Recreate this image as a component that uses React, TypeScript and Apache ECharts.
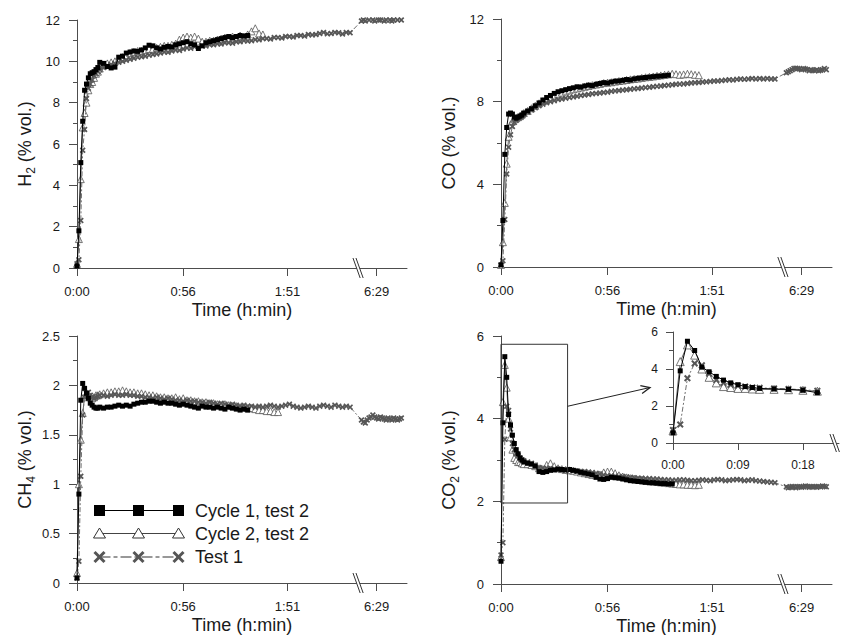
import React, { useEffect, useRef } from "react";
import * as echarts from "echarts";

const FONT = "'Liberation Sans', Arial, Helvetica, sans-serif";
const AXIS_COLOR = "#4d4d4d";
const TEXT_COLOR = "#1a1a1a";

// sampling times (real minutes since start)
const T_TEST2 = [
  0, 1, 2, 3, 4, 5, 6, 7, 8, 9, 10, 11, 12,
  14, 16, 18, 20, 22, 24, 26, 28, 30, 32, 34, 36, 38, 40, 42, 44, 46, 48, 50, 52,
  54, 56, 58, 60, 62, 64, 66, 68, 70, 72, 74, 76, 78, 80, 82, 84, 86, 88, 90, 92,
  94, 96, 98, 100, 102, 104, 106,
];
const T_TEST1 = [
  0, 1, 2, 3, 4, 5, 6, 7, 8, 9, 10, 11, 12,
  14, 16, 18, 20, 22, 24, 26, 28, 30, 32, 34, 36, 38, 40, 42, 44, 46, 48, 50, 52,
  54, 56, 58, 60, 62, 64, 66, 68, 70, 72, 74, 76, 78, 80, 82, 84, 86, 88, 90, 92,
  94, 96, 98, 100, 102, 104, 106, 108, 110, 112, 114, 116, 118, 120, 122, 124, 126,
  128, 130, 132, 134, 136, 138, 140, 142, 144,
  381, 382, 383, 384, 385, 386, 387, 388, 389, 390, 391, 392, 393, 394, 395, 396,
  397, 398, 399, 400, 401, 402,
];

// x axis ticks (real minutes)
const MAIN_TICKS = [0, 56, 111, 389];
const INSET_TICKS = [0, 9, 18];
// axis break: real times above BREAK_AT are shifted left by BREAK_SHIFT
const BREAK_AT = 148;
const BREAK_SHIFT = 231;
const INSET_MAX_T = 20;

// ---- H2 (% vol.)
const H2_C1 = [
  0.1, 1.8, 5.1, 7.1, 8.6, 8.9, 9.2, 9.4, 9.45, 9.5, 9.6, 9.7, 9.95,
  9.9, 9.75, 9.68, 9.72, 10.2, 10.25, 10.4, 10.45, 10.5, 10.48,
  10.55, 10.65, 10.78, 10.75, 10.65, 10.6, 10.68, 10.72, 10.7, 10.8,
  10.85, 10.9, 10.95, 10.85, 10.8, 10.62, 10.75, 10.9, 10.95, 11.0,
  11.05, 11.1, 11.15, 11.2, 11.15, 11.2, 11.25, 11.22, 11.25,
];
const H2_C2 = [
  0.2, 1.4, 4.3, 6.8, 7.5, 8.0, 8.6, 8.9, 9.0, 9.2, 9.4, 9.5, 9.65,
  9.8, 9.9, 9.95, 10.0, 10.1, 10.2, 10.3, 10.4, 10.45, 10.5,
  10.5, 10.55, 10.6, 10.6, 10.65, 10.7, 10.75, 10.75, 10.8, 10.85,
  11.05, 11.15, 11.2, 11.15, 11.2, 11.1, 10.95, 10.95, 11.0, 11.0,
  11.05, 11.1, 11.15, 11.1, 11.2, 11.15, 11.25, 11.2, 11.3, 11.45,
  11.6, 11.35, 11.3,
];
const H2_T1 = [
  0.2, 0.4, 2.3, 5.7, 6.7, 8.2, 8.7, 8.9, 9.1, 9.3, 9.4, 9.5, 9.6,
  9.7, 9.8, 9.85, 9.9, 9.95, 10.0, 10.05, 10.1, 10.15, 10.2,
  10.22, 10.25, 10.3, 10.33, 10.36, 10.4, 10.45, 10.44, 10.5, 10.55,
  10.53, 10.6, 10.65, 10.63, 10.7, 10.7, 10.75, 10.74, 10.8, 10.8,
  10.85, 10.84, 10.9, 10.9, 10.88, 10.95, 10.95, 11.0, 10.98, 11.0,
  11.05, 11.04, 11.1, 11.1, 11.08, 11.15, 11.15, 11.13, 11.2, 11.2,
  11.18, 11.25, 11.25, 11.22, 11.3, 11.28, 11.3, 11.35, 11.4, 11.33,
  11.35, 11.4, 11.38, 11.32, 11.4, 11.38,
  11.95, 12.0, 11.95, 12.05, 12.0, 12.1, 12.0, 11.95, 12.05, 12.0, 12.0,
  12.05, 11.95, 12.0, 12.05, 12.0, 11.95, 12.0, 12.05, 12.0, 12.05, 12.0,
];

// ---- CO (% vol.)
const CO_C1 = [
  0.1, 2.25, 5.45, 6.75, 7.4, 7.45, 7.4, 7.25, 7.2, 7.25, 7.3, 7.35, 7.45,
  7.55, 7.66, 7.8, 7.94, 8.08, 8.2, 8.3, 8.4, 8.48, 8.53,
  8.58, 8.63, 8.67, 8.72, 8.7, 8.76, 8.8, 8.78, 8.84, 8.88,
  8.92, 8.9, 8.95, 8.99, 9.0, 9.03, 9.07, 9.05, 9.1, 9.13,
  9.15, 9.17, 9.19, 9.21, 9.23, 9.24, 9.26, 9.28,
];
const CO_C2 = [
  0.1, 1.2, 3.1, 5.0, 6.3, 6.9, 7.05, 7.15, 7.2, 7.25, 7.3, 7.38, 7.45,
  7.55, 7.68, 7.8, 7.92, 8.02, 8.12, 8.22, 8.3, 8.38, 8.44,
  8.5, 8.55, 8.6, 8.64, 8.68, 8.72, 8.76, 8.8, 8.83, 8.86,
  8.9, 8.92, 8.94, 8.97, 9.0, 9.02, 9.05, 9.08, 9.1, 9.12,
  9.15, 9.18, 9.2, 9.22, 9.25, 9.27, 9.3, 9.32, 9.35, 9.33,
  9.3, 9.32, 9.35, 9.33, 9.3, 9.28,
];
const CO_T1 = [
  0.1, 0.3, 2.3, 4.5, 5.8, 6.4, 6.8, 7.0, 7.1, 7.2, 7.25, 7.3, 7.4,
  7.5, 7.6, 7.7, 7.8, 7.88, 7.95, 8.0, 8.05, 8.1, 8.13,
  8.17, 8.2, 8.23, 8.26, 8.3, 8.32, 8.35, 8.38, 8.4, 8.42,
  8.44, 8.46, 8.5, 8.52, 8.54, 8.56, 8.58, 8.6, 8.62, 8.64,
  8.66, 8.68, 8.7, 8.72, 8.74, 8.76, 8.78, 8.8, 8.82, 8.84,
  8.85, 8.86, 8.88, 8.9, 8.92, 8.93, 8.95, 8.96, 8.98, 9.0,
  9.0, 9.02, 9.04, 9.06, 9.05, 9.08, 9.1, 9.08, 9.1, 9.12,
  9.1, 9.12, 9.1, 9.12, 9.1, 9.1,
  9.4, 9.45, 9.5, 9.55, 9.6, 9.62, 9.6, 9.58, 9.55, 9.6, 9.58,
  9.55, 9.5, 9.55, 9.52, 9.5, 9.55, 9.5, 9.52, 9.55, 9.6, 9.55,
];

// ---- CH4 (% vol.)
const CH4_C1 = [
  0.05, 0.9, 1.85, 2.02, 1.97, 1.92, 1.87, 1.82, 1.8, 1.78, 1.77, 1.77, 1.78,
  1.77, 1.78, 1.78, 1.79, 1.8, 1.79, 1.8, 1.79, 1.81, 1.82,
  1.83, 1.83, 1.84, 1.84, 1.83, 1.82, 1.83, 1.82, 1.82, 1.81,
  1.8, 1.81, 1.8, 1.79, 1.78, 1.77, 1.79, 1.78, 1.78, 1.77,
  1.78, 1.77, 1.76, 1.78, 1.77, 1.76, 1.75, 1.76, 1.75,
];
const CH4_C2 = [
  0.1, 1.0, 1.45, 1.72, 1.88, 1.92, 1.9, 1.88, 1.87, 1.88, 1.9, 1.9, 1.91,
  1.92, 1.93, 1.93, 1.94, 1.94, 1.95, 1.94, 1.93, 1.93, 1.92,
  1.92, 1.91, 1.9, 1.9, 1.89, 1.88, 1.88, 1.87, 1.87, 1.88,
  1.86, 1.87, 1.85, 1.85, 1.84, 1.84, 1.83, 1.83, 1.82, 1.82,
  1.81, 1.8, 1.81, 1.8, 1.79, 1.79, 1.78, 1.78, 1.77, 1.77,
  1.76, 1.75, 1.75, 1.74, 1.74, 1.73, 1.73,
];
const CH4_T1 = [
  0.05, 0.22, 1.08, 1.7, 1.88, 1.92, 1.93, 1.9, 1.88, 1.87, 1.88, 1.89, 1.9,
  1.9, 1.89, 1.9, 1.91, 1.9, 1.9, 1.91, 1.9, 1.9, 1.89,
  1.89, 1.88, 1.88, 1.87, 1.88, 1.87, 1.86, 1.87, 1.86, 1.85,
  1.85, 1.84, 1.85, 1.84, 1.84, 1.83, 1.83, 1.82, 1.83, 1.82,
  1.81, 1.82, 1.81, 1.8, 1.81, 1.8, 1.79, 1.8, 1.79, 1.79,
  1.78, 1.79, 1.78, 1.79, 1.8, 1.79, 1.78, 1.79, 1.8, 1.81,
  1.79, 1.78, 1.77, 1.78, 1.79, 1.78, 1.77, 1.79, 1.8, 1.79,
  1.78, 1.8, 1.79, 1.78, 1.79, 1.78,
  1.65, 1.63, 1.62, 1.65, 1.67, 1.68, 1.7, 1.68, 1.67, 1.66, 1.68,
  1.67, 1.66, 1.65, 1.67, 1.66, 1.65, 1.67, 1.66, 1.65, 1.66, 1.67,
];

// ---- CO2 (% vol.)
const CO2_C1 = [
  0.55, 3.9, 5.5, 5.0, 4.1, 3.85, 3.6, 3.4, 3.25, 3.15, 3.05, 3.0, 2.95,
  2.92, 2.9, 2.85, 2.72, 2.7, 2.72, 2.75, 2.76, 2.78, 2.77,
  2.76, 2.77, 2.75, 2.73, 2.7, 2.68, 2.66, 2.64, 2.58, 2.54,
  2.53, 2.55, 2.58, 2.57, 2.56, 2.54, 2.52, 2.5, 2.49, 2.48,
  2.47, 2.46, 2.45, 2.45, 2.44, 2.43, 2.43, 2.42, 2.42,
];
const CO2_C2 = [
  0.65, 4.4, 5.3, 4.75, 4.0, 3.55, 3.25, 3.05, 3.0, 2.95, 2.95, 2.92, 2.9,
  2.9, 2.88, 2.85, 2.8, 2.78, 2.88, 2.92, 2.85, 2.8, 2.78,
  2.76, 2.75, 2.74, 2.72, 2.7, 2.68, 2.66, 2.64, 2.63, 2.65,
  2.7, 2.72, 2.72, 2.68, 2.63, 2.6, 2.58, 2.56, 2.55, 2.53,
  2.52, 2.5, 2.49, 2.48, 2.47, 2.46, 2.45, 2.44, 2.43, 2.42,
  2.41, 2.41, 2.4, 2.4, 2.39, 2.4,
];
const CO2_T1 = [
  0.7, 1.0, 3.5, 4.3, 4.2, 3.75, 3.4, 3.25, 3.15, 3.1, 3.05, 3.0, 2.98,
  2.95, 2.92, 2.88, 2.82, 2.8, 2.8, 2.8, 2.78, 2.77, 2.76,
  2.75, 2.75, 2.74, 2.73, 2.72, 2.72, 2.71, 2.7, 2.68, 2.66,
  2.64, 2.62, 2.62, 2.61, 2.6, 2.6, 2.59, 2.58, 2.57, 2.56,
  2.56, 2.55, 2.55, 2.54, 2.54, 2.53, 2.52, 2.52, 2.51, 2.51,
  2.52, 2.52, 2.51, 2.5, 2.5, 2.51, 2.52, 2.51, 2.5, 2.52,
  2.53, 2.52, 2.5, 2.51, 2.52, 2.53, 2.52, 2.5, 2.51, 2.52,
  2.5, 2.49, 2.48, 2.47, 2.46, 2.45,
  2.35, 2.33, 2.34, 2.36, 2.35, 2.33, 2.35, 2.36, 2.34, 2.35, 2.37,
  2.36, 2.34, 2.35, 2.36, 2.35, 2.34, 2.36, 2.35, 2.37, 2.36, 2.35,
];

const LEGEND_LABELS = ["Cycle 1, test 2", "Cycle 2, test 2", "Test 1"];

const toDisplay = (t: number) => (t > BREAK_AT ? t - BREAK_SHIFT : t);
const fromDisplay = (v: number) => (v > BREAK_AT ? v + BREAK_SHIFT : v);
const hmm = (v: number) => {
  const real = Math.round(fromDisplay(v));
  const h = Math.floor(real / 60);
  const m = real % 60;
  return `${h}:${String(m).padStart(2, "0")}`;
};
const zip = (times: number[], vals: number[], maxT = Infinity) =>
  vals
    .map((v, i) => [times[i], v])
    .filter((p) => p[0] <= maxT)
    .map((p) => [toDisplay(p[0]), p[1]]);

const X_PATH = "path://M0,2L2,0L5,3L8,0L10,2L7,5L10,8L8,10L5,7L2,10L0,8L3,5Z";

const GRIDS = [
  { left: 77, top: 20, width: 330, height: 248 },
  { left: 501, top: 19, width: 331, height: 248 },
  { left: 77, top: 336, width: 330, height: 247 },
  { left: 501, top: 336, width: 331, height: 248 },
  { left: 673, top: 332, width: 166, height: 111 },
];

const richName = {
  n: { fontFamily: FONT, fontSize: 18, color: TEXT_COLOR, lineHeight: 24 },
  s: { fontFamily: FONT, fontSize: 12, color: TEXT_COLOR, lineHeight: 12, verticalAlign: "bottom" },
};

function xAxisOf(gridIndex: number, inset: boolean) {
  const ticks = inset ? INSET_TICKS : MAIN_TICKS.map(toDisplay);
  return {
    type: "value",
    gridIndex,
    min: 0,
    max: inset ? 23 : 174,
    axisLine: { show: true, onZero: false, lineStyle: { color: AXIS_COLOR, width: 1 } },
    axisTick: { show: true, inside: false, length: inset ? 7 : 8, customValues: ticks, lineStyle: { color: AXIS_COLOR } },
    axisLabel: {
      customValues: ticks,
      formatter: (v: number) => hmm(v),
      fontSize: inset ? 12 : 13,
      fontFamily: FONT,
      color: TEXT_COLOR,
      margin: inset ? 16 : 17,
    },
    splitLine: { show: false },
    name: inset ? "" : "Time (h:min)",
    nameLocation: "middle",
    nameGap: 33,
    nameTextStyle: { fontSize: 18, fontFamily: FONT, color: TEXT_COLOR },
  };
}

function yAxisOf(gridIndex: number, max: number, interval: number, name: string, inset = false) {
  return {
    type: "value",
    gridIndex,
    min: 0,
    max,
    interval,
    axisLine: { show: true, lineStyle: { color: AXIS_COLOR, width: 1 } },
    axisTick: { show: true, length: inset ? 7 : 8, lineStyle: { color: AXIS_COLOR } },
    minorTick: { show: true, splitNumber: 2, length: 4, lineStyle: { color: AXIS_COLOR } },
    axisLabel: { fontSize: inset ? 12 : 13, fontFamily: FONT, color: TEXT_COLOR, margin: inset ? 15 : 17 },
    splitLine: { show: false },
    minorSplitLine: { show: false },
    name,
    nameLocation: "middle",
    nameGap: 40,
    nameTextStyle: { fontSize: 18, fontFamily: FONT, color: TEXT_COLOR, rich: richName },
  };
}

function seriesOf(g: number, c1: number[], c2: number[], t1: number[], inset = false) {
  const maxT = inset ? INSET_MAX_T : Infinity;
  const common = {
    type: "line",
    xAxisIndex: g,
    yAxisIndex: g,
    showAllSymbol: true,
    silent: true,
    emphasis: { disabled: true },
    clip: true,
  };
  return [
    {
      ...common,
      name: LEGEND_LABELS[1],
      data: zip(T_TEST2, c2, maxT),
      symbol: "triangle",
      symbolSize: inset ? 8 : 7,
      itemStyle: { color: "#ffffff", borderColor: "#555", borderWidth: 0.8 },
      lineStyle: { color: "#666", width: 1 },
      z: 2,
    },
    {
      ...common,
      name: LEGEND_LABELS[2],
      data: zip(T_TEST1, t1, maxT),
      symbol: X_PATH,
      symbolSize: inset ? 7 : 6,
      itemStyle: { color: "#575757" },
      lineStyle: { color: "#707070", width: 1, type: [5, 2, 2, 2] },
      z: 3,
    },
    {
      ...common,
      name: LEGEND_LABELS[0],
      data: zip(T_TEST2, c1, maxT),
      symbol: "rect",
      symbolSize: 5,
      itemStyle: { color: "#000" },
      lineStyle: { color: "#000", width: 1 },
      z: 4,
    },
  ];
}

export default function App() {
  const ref = useRef<HTMLDivElement>(null);
  useEffect(() => {
    document.body.style.margin = "0";
    if (!ref.current) return;
    const chart = echarts.init(ref.current, undefined, { renderer: "svg" });
    const option: any = {
      animation: false,
      backgroundColor: "#ffffff",
      grid: GRIDS.map((g) => ({ ...g, containLabel: false, outerBoundsMode: "none" })),
      xAxis: [0, 1, 2, 3, 4].map((g) => xAxisOf(g, g === 4)),
      yAxis: [
        yAxisOf(0, 12, 2, "{n|H}{s|2}{n| (% vol.)}"),
        yAxisOf(1, 12, 4, "{n|CO (% vol.)}"),
        yAxisOf(2, 2.5, 0.5, "{n|CH}{s|4}{n| (% vol.)}"),
        yAxisOf(3, 6, 2, "{n|CO}{s|2}{n| (% vol.)}"),
        yAxisOf(4, 6, 2, "", true),
      ],
      series: [
        ...seriesOf(0, H2_C1, H2_C2, H2_T1),
        ...seriesOf(1, CO_C1, CO_C2, CO_T1),
        ...seriesOf(2, CH4_C1, CH4_C2, CH4_T1),
        ...seriesOf(3, CO2_C1, CO2_C2, CO2_T1),
        ...seriesOf(4, CO2_C1, CO2_C2, CO2_T1, true),
      ],
    };
    chart.setOption(option);

    const px = (g: number, x: number, y: number) =>
      chart.convertToPixel({ gridIndex: g } as any, [x, y]) as number[];

    const graphics: any[] = [];
    const breakMark = (g: number, t: number, h: number) => {
      const [cx, cy] = px(g, t, 0);
      const w = h * 0.36;
      graphics.push({
        type: "polygon",
        shape: { points: [[cx - w - 1.5, cy - h], [cx - w + 1.5, cy - h], [cx + w + 1.5, cy + h], [cx + w - 1.5, cy + h]] },
        style: { fill: "#ffffff", stroke: "none" },
        z: 50,
      });
      graphics.push({
        type: "line",
        shape: { x1: cx - w - 1.5, y1: cy - h, x2: cx + w - 1.5, y2: cy + h },
        style: { stroke: "#333", lineWidth: 1 },
        z: 51,
      });
      graphics.push({
        type: "line",
        shape: { x1: cx - w + 1.5, y1: cy - h, x2: cx + w + 1.5, y2: cy + h },
        style: { stroke: "#333", lineWidth: 1 },
        z: 51,
      });
    };
    for (let g = 0; g < 4; g++) breakMark(g, BREAK_AT + 0.2, 10);
    breakMark(4, 22.4, 9);

    // zoom rectangle on the CO2 panel
    const [rx1, ry1] = px(3, 0, 5.8);
    const [rx2, ry2] = px(3, 35, 1.96);
    graphics.push({
      type: "rect",
      shape: { x: rx1, y: ry1, width: rx2 - rx1, height: ry2 - ry1 },
      style: { fill: "none", stroke: "#333", lineWidth: 1 },
      z: 40,
    });
    // arrow to the inset
    const sy = px(3, 0, 4.3)[1];
    const [ix, iy] = px(4, 0, 3);
    const ex = ix - 23;
    const ey = iy;
    const dx = ex - rx2;
    const dy = ey - sy;
    const len = Math.hypot(dx, dy);
    const ux = dx / len;
    const uy = dy / len;
    const nx = -uy;
    const ny = ux;
    const bx = ex - 9 * ux;
    const by = ey - 9 * uy;
    graphics.push({
      type: "line",
      shape: { x1: rx2, y1: sy, x2: ex, y2: ey },
      style: { stroke: "#222", lineWidth: 1 },
      z: 40,
    });
    graphics.push({
      type: "polyline",
      shape: { points: [[bx + 4 * nx, by + 4 * ny], [ex, ey], [bx - 4 * nx, by - 4 * ny]] },
      style: { stroke: "#222", lineWidth: 1.3, fill: "none" },
      z: 40,
    });

    // legend (bottom-left panel)
    const LX = [99.5, 138.5, 178.5];
    const LY = [510.5, 533.5, 557];
    graphics.push({ type: "line", shape: { x1: LX[0], y1: LY[0], x2: LX[2], y2: LY[0] }, style: { stroke: "#000", lineWidth: 1 }, z: 60 });
    LX.forEach((x) =>
      graphics.push({ type: "rect", shape: { x: x - 5.5, y: LY[0] - 5.5, width: 11, height: 11 }, style: { fill: "#000" }, z: 61 })
    );
    graphics.push({ type: "line", shape: { x1: LX[0], y1: LY[1], x2: LX[2], y2: LY[1] }, style: { stroke: "#444", lineWidth: 1 }, z: 60 });
    LX.forEach((x) =>
      graphics.push({
        type: "polygon",
        shape: { points: [[x, LY[1] - 5.5], [x + 6, LY[1] + 4.5], [x - 6, LY[1] + 4.5]] },
        style: { fill: "#fff", stroke: "#333", lineWidth: 1 },
        z: 61,
      })
    );
    graphics.push({
      type: "line",
      shape: { x1: LX[0], y1: LY[2], x2: LX[2], y2: LY[2] },
      style: { stroke: "#777", lineWidth: 1.5, lineDash: [11, 3, 4, 3] },
      z: 60,
    });
    LX.forEach((x) => {
      graphics.push({ type: "line", shape: { x1: x - 5, y1: LY[2] - 5, x2: x + 5, y2: LY[2] + 5 }, style: { stroke: "#555", lineWidth: 3 }, z: 61 });
      graphics.push({ type: "line", shape: { x1: x - 5, y1: LY[2] + 5, x2: x + 5, y2: LY[2] - 5 }, style: { stroke: "#555", lineWidth: 3 }, z: 61 });
    });
    LEGEND_LABELS.forEach((label, i) =>
      graphics.push({
        type: "text",
        x: 195,
        y: LY[i],
        style: {
          text: label,
          fontSize: 18,
          fontFamily: FONT,
          fill: TEXT_COLOR,
          verticalAlign: "middle",
          textVerticalAlign: "middle",
        },
        z: 62,
      })
    );

    chart.setOption({ graphic: graphics });
    return () => chart.dispose();
  }, []);
  return <div ref={ref} style={{ width: 841, height: 635 }} />;
}
